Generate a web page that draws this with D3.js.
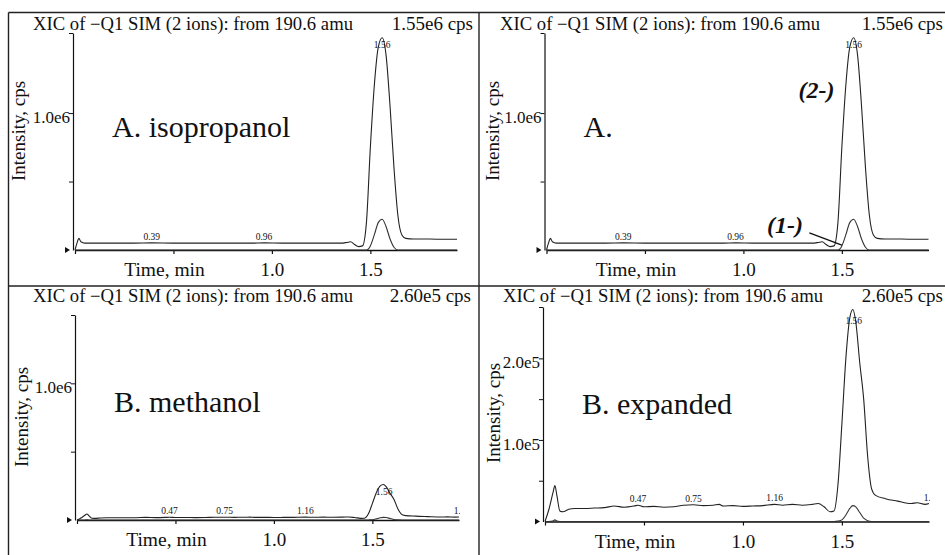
<!DOCTYPE html>
<html><head><meta charset="utf-8">
<script src="https://cdn.jsdelivr.net/npm/d3@7"></script>
<style>
body{margin:0;background:#fff}
svg{display:block}
text{font-family:"Liberation Serif","Times New Roman",serif;fill:#111}
</style>
</head><body>
<svg id="chart" width="945" height="555" font-family="Liberation Serif, Times New Roman, serif"></svg>
<script>
// ---------------- DATA ----------------
const titleText = "XIC of \u2212Q1 SIM (2 ions): from 190.6 amu";
const xTickValues = [0, 0.5, 1.0, 1.5];
const xTickLabels = ["", "", "1.0", "1.5"];

// Dataset A (isopropanol), intensities in cps
const timeA = [0.00,0.01,0.02,0.03,0.05,0.10,0.20,0.30,0.39,0.50,0.60,0.70,0.80,0.90,0.96,1.05,1.15,1.25,1.35,1.38,1.40,1.42,1.44,1.46,1.48,1.50,1.52,1.54,1.56,1.58,1.60,1.62,1.64,1.66,1.68,1.72,1.80,1.88,1.94];
const ion2A = [0,50000,85000,60000,50000,50000,50000,50000,52000,50000,50000,50000,50000,50000,52000,50000,50000,50000,50000,55000,60000,40000,25000,30000,200000,750000,1200000,1480000,1550000,1420000,1050000,600000,250000,110000,85000,80000,80000,78000,78000];
const ion1A = [0,0,0,0,0,0,0,0,0,0,0,0,0,0,0,0,0,0,0,0,0,0,0,0,0,30000,110000,200000,225000,170000,80000,20000,0,0,0,0,0,0,0];
const peakLabelTimesA = [0.39, 0.96, 1.56];
const peakLabelsA = ["0.39", "0.96", "1.56"];

// Dataset B (methanol), intensities in cps
const timeB = [0.00,0.02,0.04,0.05,0.06,0.075,0.09,0.12,0.15,0.20,0.25,0.30,0.35,0.40,0.45,0.47,0.50,0.55,0.60,0.65,0.70,0.75,0.80,0.85,0.88,0.90,0.95,1.00,1.05,1.10,1.16,1.20,1.25,1.30,1.35,1.38,1.41,1.44,1.46,1.48,1.50,1.52,1.54,1.555,1.57,1.59,1.61,1.63,1.65,1.67,1.72,1.78,1.85,1.88,1.92,1.94];
const ion2B = [0,15000,35000,44000,32000,13000,12000,15000,16000,16000,16500,17000,19000,17500,19000,20000,18000,18500,17500,18000,20000,20500,19500,20000,21000,19000,19500,18500,19000,19500,21000,20000,21000,20000,21000,22000,18000,12000,13000,45000,120000,200000,250000,260000,245000,195000,150000,80000,40000,32000,28000,25000,22000,23000,21000,22000];
const ion1B = [0,0,500,2000,500,0,0,0,0,0,0,0,0,0,0,0,0,0,0,0,0,0,0,0,0,0,0,0,0,0,0,0,0,0,0,0,0,0,0,500,2000,8000,16000,19500,18000,11000,4000,1000,0,0,0,0,0,0,0,0];
const peakLabelTimesB = [0.47, 0.75, 1.16, 1.56, 1.955];
const peakLabelsB = ["0.47", "0.75", "1.16", "1.56", "1.95"];

// y ticks
const yTicksA = [500000, 1000000];
const yTickLabelsA = ["", "1.0e6"];
const yTicksBexp = [50000, 100000, 150000, 200000];
const yTickLabelsBexp = ["", "1.0e5", "", "2.0e5"];

const panelTexts = ["A. isopropanol", "A.", "B. methanol", "B. expanded"];
const maxLabels = ["1.55e6 cps", "1.55e6 cps", "2.60e5 cps", "2.60e5 cps"];
const ionTags = ["(2-)", "(1-)"];

// ---------------- LAYOUT ----------------
const FONT = "Liberation Serif, Times New Roman, serif";
const data = {
  A: {time: timeA, ion2: ion2A, ion1: ion1A, lt: peakLabelTimesA, ll: peakLabelsA},
  B: {time: timeB, ion2: ion2B, ion1: ion1B, lt: peakLabelTimesB, ll: peakLabelsB}
};
const panels = [
  {id:"p1", d:"A", x0:75,  x1:457, yBase:250,   yTop:33,  yMax:1.585e6, ticks:yTicksA, tl:yTickLabelsA, titleX:33,  titleY:30,  maxR:473, yTitleX:25,  yTitleY:131, text:0},
  {id:"p2", d:"A", x0:546.5,x1:928.5,yBase:250, yTop:33,  yMax:1.585e6, ticks:yTicksA, tl:yTickLabelsA, titleX:500, titleY:30,  maxR:943, yTitleX:499, yTitleY:131, text:1, tags:true},
  {id:"p3", d:"B", x0:77,  x1:459, yBase:520,   yTop:315, yMax:1.5e6,   ticks:yTicksA, tl:yTickLabelsA, titleX:33,  titleY:302, maxR:471, yTitleX:28,  yTitleY:417, text:2},
  {id:"p4", d:"B", x0:545, x1:929, yBase:521.5, yTop:307, yMax:2.63e5,  ticks:yTicksBexp, tl:yTickLabelsBexp, titleX:503, titleY:302, maxR:943, yTitleX:500, yTitleY:413, text:3}
];

const svg = d3.select("#chart");
const defs = svg.append("defs");

// panel frame lines
const frame = svg.append("g").attr("stroke", "#222").attr("stroke-width", 1.4).attr("fill", "none");
frame.append("line").attr("x1", 8.5).attr("y1", 12.5).attr("x2", 8.5).attr("y2", 555);
frame.append("line").attr("x1", 8.5).attr("y1", 12.5).attr("x2", 945).attr("y2", 12.5);
frame.append("line").attr("x1", 479).attr("y1", 12.5).attr("x2", 479).attr("y2", 555);
frame.append("line").attr("x1", 8.5).attr("y1", 286).attr("x2", 945).attr("y2", 286);

function valueAt(ds, series, t) {
  const i = d3.bisectLeft(ds.time, t);
  if (i <= 0) return series[0];
  if (i >= ds.time.length) return series[series.length - 1];
  const t0 = ds.time[i-1], t1 = ds.time[i];
  const f = (t - t0) / (t1 - t0);
  return series[i-1] + f * (series[i] - series[i-1]);
}

panels.forEach(p => {
  const ds = data[p.d];
  const g = svg.append("g").attr("font-family", FONT);
  const x = d3.scaleLinear().domain([0, 1.94]).range([p.x0, p.x1]);
  const y = d3.scaleLinear().domain([0, p.yMax]).range([p.yBase, p.yTop]);

  defs.append("clipPath").attr("id", "clip-" + p.id)
    .append("rect").attr("x", p.x0 - 1).attr("y", p.yTop - 12)
    .attr("width", p.x1 - p.x0 + 2).attr("height", p.yBase - p.yTop + 14);

  // title
  g.append("text").attr("x", p.titleX).attr("y", p.titleY).attr("font-family", FONT)
    .attr("font-size", 18).attr("textLength", 320).attr("lengthAdjust", "spacingAndGlyphs")
    .text(titleText);
  g.append("text").attr("x", p.maxR).attr("y", p.titleY).attr("text-anchor", "end").attr("font-family", FONT)
    .attr("font-size", 19).text(maxLabels[p.text]);

  // x axis
  const xAxis = d3.axisBottom(x).tickValues(xTickValues).tickSize(4).tickSizeOuter(0)
    .tickFormat((d, i) => xTickLabels[i]);
  const gx = g.append("g").attr("transform", `translate(0,${p.yBase})`).call(xAxis);
  gx.select(".domain").attr("stroke", "#111").attr("stroke-width", 1.5);
  gx.selectAll(".tick line").attr("stroke", "#111").attr("stroke-width", 1.2);
  gx.selectAll(".tick text").attr("y", 26).attr("dy", 0)
    .attr("font-family", FONT).attr("font-size", 19).attr("fill", "#111");
  g.append("text").attr("x", x(0.5) - 9).attr("y", p.yBase + 26).attr("text-anchor", "middle")
    .attr("font-family", FONT).attr("font-size", 19.5).text("Time, min");

  // y axis
  const yAxis = d3.axisLeft(y).tickValues(p.ticks.concat([p.yMax])).tickSize(4).tickSizeOuter(0)
    .tickFormat((d, i) => p.tl[i] || "");
  const gy = g.append("g").attr("transform", `translate(${p.x0 - 2},0)`).call(yAxis);
  gy.select(".domain").attr("stroke", "#111").attr("stroke-width", 1.2);
  gy.selectAll(".tick line").attr("stroke", "#111").attr("stroke-width", 1);
  gy.selectAll(".tick text").attr("x", -3).attr("dy", "0.55em")
    .attr("font-family", FONT).attr("font-size", 17).attr("fill", "#111");

  // y title
  g.append("text").attr("transform", `translate(${p.yTitleX},${p.yTitleY}) rotate(-90)`)
    .attr("text-anchor", "middle").attr("font-family", FONT).attr("font-size", 19).text("Intensity, cps");

  // little start marker
  g.append("path")
    .attr("d", `M${p.x0 - 10},${p.yBase - 3}L${p.x0 - 5},${p.yBase}L${p.x0 - 10},${p.yBase + 3}Z`)
    .attr("fill", "#111");

  // traces
  const line = series => d3.line().x((d, i) => x(ds.time[i])).y(d => y(d)).curve(d3.curveMonotoneX)(series);
  const gl = g.append("g").attr("clip-path", `url(#clip-${p.id})`);
  gl.append("path").attr("d", line(ds.ion1)).attr("fill", "none").attr("stroke", "#333").attr("stroke-width", 1.1);
  gl.append("path").attr("d", line(ds.ion2)).attr("fill", "none").attr("stroke", "#222").attr("stroke-width", 1.1);

  // peak labels
  ds.lt.forEach((t, i) => {
    const v = valueAt(ds, ds.ion2, t);
    const isPeak = ds.ll[i] === "1.56";
    gl.append("text").attr("x", x(t)).attr("y", isPeak ? y(v) + 10 : y(v) - 3)
      .attr("text-anchor", "middle").attr("font-family", FONT).attr("font-size", 9.5).text(ds.ll[i]);
  });

  // panel text
  g.append("text").attr("x", p.x0 + 37).attr("y", p.yBase - (p.d === "A" ? 113 : 108))
    .attr("font-family", FONT).attr("font-size", 30).text(panelTexts[p.text]);

  // ion tags
  if (p.tags) {
    g.append("text").attr("x", x(1.28)).attr("y", y(1.11e6)).attr("font-family", FONT)
      .attr("font-size", 24).attr("font-weight", "bold").attr("font-style", "italic").text(ionTags[0]);
    g.append("text").attr("x", x(1.12)).attr("y", y(0.124e6)).attr("font-family", FONT)
      .attr("font-size", 24).attr("font-weight", "bold").attr("font-style", "italic").text(ionTags[1]);
    g.append("line").attr("x1", x(1.335)).attr("y1", y(0.125e6)).attr("x2", x(1.50)).attr("y2", y(0.036e6))
      .attr("stroke", "#111").attr("stroke-width", 1.4);
  }
});
</script>
</body></html>
